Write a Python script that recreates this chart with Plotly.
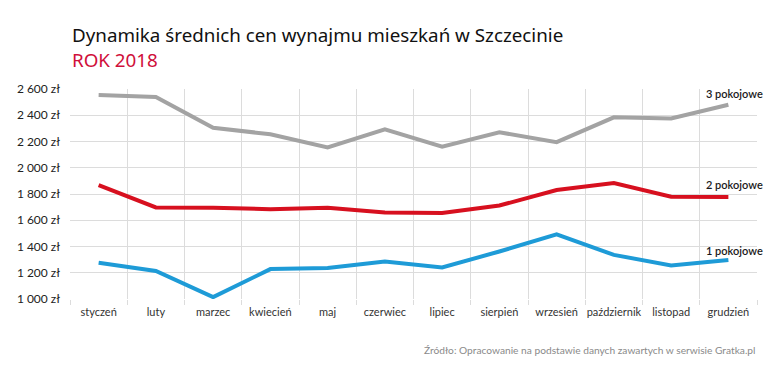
import plotly.graph_objects as go

months = ["styczeń", "luty", "marzec", "kwiecień", "maj", "czerwiec", "lipiec",
          "sierpień", "wrzesień", "październik", "listopad", "grudzień"]
pok3 = [2555, 2540, 2305, 2255, 2155, 2293, 2160, 2270, 2195, 2384, 2376, 2480]
pok2 = [1868, 1698, 1696, 1684, 1696, 1660, 1655, 1712, 1830, 1884, 1780, 1777]
pok1 = [1276, 1214, 1014, 1228, 1236, 1286, 1240, 1362, 1492, 1336, 1256, 1298]
series_names = ["3 pokojowe", "2 pokojowe", "1 pokojowe"]
series_colors = ["#a3a3a3", "#d7101f", "#1e9bd7"]
ytick_vals = [1000, 1200, 1400, 1600, 1800, 2000, 2200, 2400, 2600]
ytick_text = ["1 000 zł", "1 200 zł", "1 400 zł", "1 600 zł", "1 800 zł",
              "2 000 zł", "2 200 zł", "2 400 zł", "2 600 zł"]

fig = go.Figure()
for name, vals, col in zip(series_names, [pok3, pok2, pok1], series_colors):
    fig.add_trace(go.Scatter(x=months, y=vals, mode="lines", name=name,
                             line=dict(color=col, width=4), showlegend=False))

label_offsets = [3, 4, 1]
for name, vals, off in zip(series_names, [pok3, pok2, pok1], label_offsets):
    fig.add_annotation(x=months[-1], y=vals[-1], text=name, showarrow=False,
                       xanchor="left", yanchor="bottom", yshift=off, xshift=-24,
                       font=dict(family="Lato", size=11, color="#1a1a1a", weight=600))

fig.add_annotation(xref="paper", yref="paper", x=0.0, y=1.0,
                   yshift=54, text="Dynamika średnich cen wynajmu mieszkań w Szczecinie",
                   showarrow=False, xanchor="left", yanchor="middle",
                   font=dict(family="Noto Sans", size=18.8, color="#111111"))
fig.add_annotation(xref="paper", yref="paper", x=0.0, y=1.0,
                   yshift=29, text="ROK 2018",
                   showarrow=False, xanchor="left", yanchor="middle",
                   font=dict(family="Noto Sans", size=18.8, color="#d0103a"))
fig.add_annotation(xref="paper", yref="paper", x=1.0, y=0, yshift=-51,
                   text="Źródło: Opracowanie na podstawie danych zawartych w serwisie Gratka.pl",
                   showarrow=False, xanchor="right", yanchor="middle",
                   font=dict(family="Lato", size=10.2, color="#8a8a8a"))

fig.update_layout(
    width=780, height=373,
    margin=dict(l=70, r=23, t=89, b=74),
    paper_bgcolor="white", plot_bgcolor="white",
    xaxis=dict(type="category", tickson="boundaries", showgrid=True,
               gridcolor="#dcdcdc", gridwidth=1, ticks="outside", ticklen=5,
               tickcolor="#dcdcdc", showline=False, zeroline=False,
               tickangle=0, automargin=False, ticklabelstandoff=5,
               tickfont=dict(family="Lato", size=11, color="#333"),
               range=[-0.5, 11.5]),
    yaxis=dict(range=[1000, 2600], tickvals=ytick_vals, ticktext=ytick_text,
               showgrid=True, gridcolor="#dcdcdc", gridwidth=1, zeroline=False,
               showline=False, ticks="", ticklabelstandoff=9, automargin=False,
               tickfont=dict(family="Lato", size=12, color="#222")),
)

fig.write_html("out.html", config={"displayModeBar": False},
               post_script="document.body.style.margin='0';")
